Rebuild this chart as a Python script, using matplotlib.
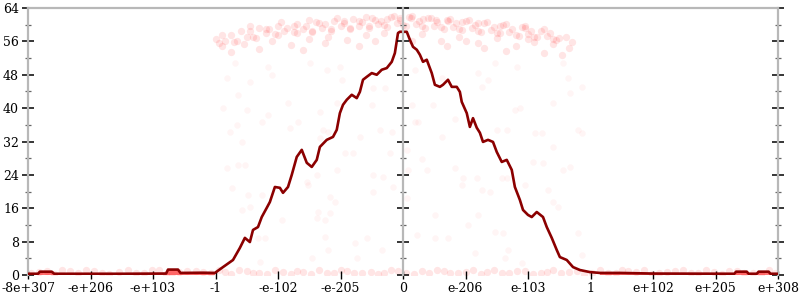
import matplotlib
matplotlib.use("Agg")
import matplotlib.pyplot as plt
import numpy as np

# x positions are in "tick units": each tick label below sits one unit apart
tick_pos = [-6, -5, -4, -3, -2, -1, 0, 1, 2, 3, 4, 5, 6]
tick_labels = ["-8e+307", "-e+206", "-e+103", "-1", "-e-102", "-e-205", "0",
               "e-206", "e-103", "1", "e+102", "e+205", "e+308"]
y_ticks = [0, 8, 16, 24, 32, 40, 48, 56, 64]
y_minor = [4, 12, 20, 28, 36, 44, 52, 60]

# dark red curve
line_x = [-6.0, -5.84, -5.81, -5.62, -5.58, -4.5, -3.79, -3.76, -3.6, -3.56, -3.2, -3.01,
          -2.88, -2.72, -2.61, -2.53, -2.45, -2.40, -2.32, -2.26, -2.18, -2.13, -2.05, -1.97,
          -1.92, -1.84, -1.78, -1.70, -1.62, -1.54, -1.46, -1.38, -1.33, -1.22, -1.12, -1.06,
          -1.01, -0.96, -0.90, -0.82, -0.74, -0.69, -0.64, -0.58, -0.50, -0.42, -0.34, -0.26,
          -0.18, -0.13, -0.08, -0.05, 0.03, 0.06, 0.11, 0.16, 0.22, 0.27, 0.32, 0.38, 0.46,
          0.51, 0.59, 0.64, 0.72, 0.78, 0.86, 0.91, 0.94, 1.02, 1.07, 1.12, 1.18, 1.23, 1.28,
          1.36, 1.44, 1.50, 1.58, 1.66, 1.74, 1.79, 1.87, 1.92, 2.00, 2.06, 2.14, 2.24, 2.30,
          2.38, 2.46, 2.51, 2.62, 2.72, 2.83, 2.99, 3.15, 3.47, 4.0, 5.3, 5.33, 5.5, 5.53,
          5.66, 5.69, 5.85, 5.88, 6.0]
line_y = [0.3, 0.3, 0.8, 0.8, 0.3, 0.3, 0.35, 1.3, 1.3, 0.5, 0.55, 0.5,
          1.9, 3.6, 6.5, 8.9, 7.9, 10.8, 11.5, 13.9, 16.1, 17.5, 21.1, 20.9,
          19.7, 21.1, 24.0, 28.3, 30.0, 26.9, 25.9, 27.6, 30.7, 32.4, 33.1, 34.8,
          38.8, 40.8, 42.0, 43.2, 42.4, 43.9, 46.8, 47.5, 48.4, 48.0, 49.2, 49.6,
          51.1, 53.2, 58.0, 58.3, 58.3, 58.3, 56.4, 54.7, 54.0, 52.8, 51.1, 51.6, 48.4,
          45.6, 45.1, 45.6, 46.8, 45.1, 45.1, 43.9, 41.5, 38.8, 35.5, 37.6, 35.3, 34.1, 31.9,
          32.4, 31.9, 29.5, 27.1, 27.6, 25.2, 21.1, 18.0, 15.6, 14.4, 13.9, 15.1, 13.9, 11.5,
          8.9, 6.0, 4.3, 3.6, 1.9, 1.2, 0.7, 0.5, 0.5, 0.35, 0.3, 0.8, 0.8, 0.3,
          0.3, 0.8, 0.8, 0.3, 0.3]

# dense band of points near the top
top_x = [-2.9, -2.6, -2.3, -2.0, -1.7, -1.4, -1.1, -0.8, -0.5, -0.2, 0.1, 0.4, 0.7, 1.0, 1.3, 1.6, 1.9, 2.2,
         -3.0, -2.75, -2.45, -2.15, -1.85, -1.55, -1.25, -0.95, -0.65, -0.35, -0.05, 0.25, 0.55, 0.85,
         1.15, 1.45, 1.75, 2.05, 2.35, 2.6,
         -2.85, -2.5, -2.2, -1.9, -1.6, -1.3, -1.0, -0.7, -0.4, -0.1, 0.2, 0.5, 0.8, 1.1, 1.4, 1.7,
         2.0, 2.3, 2.5,
         -2.7, -2.35, -2.0, -1.7, -1.45, -1.15, -0.85, -0.55, -0.25, 0.05, 0.35, 0.65, 0.95, 1.25,
         1.55, 1.85, 2.15, 2.45,
         -2.9, -2.55, -2.1, -1.8, -1.5, -1.2, -0.9, -0.6, -0.3, 0.3, 0.6, 0.9, 1.2, 1.5, 1.8, 2.1,
         2.4, 2.65,
         -2.45, -1.95, -1.5, -1.05, -0.6, -0.15, 0.15, 0.45, 0.75, 1.05, 1.35, 1.65, 1.95, 2.25,
         -2.2, -1.75, -1.35, -0.95, -0.7, -0.45, -0.25, -0.05, 0.12, 0.32, 0.52, 0.72, 0.95, 1.2,
         1.55, 1.95,
         -2.95, -2.65, -2.4, -2.05, -1.75, -1.45, -1.15, -0.85, -0.55, -0.3, 0.0, 0.3, 0.6, 0.9,
         1.2, 1.5, 1.8, 2.1, 2.4, 2.7,
         -2.75, -2.3, -1.6, -1.25, -0.7, -0.45, 0.15, 0.7, 1.0, 1.3, 1.65, 2.0, 2.25, 2.55]
top_y = [57.5, 58.5, 59.3, 59.8, 60.2, 60.6, 61.0, 61.3, 61.6, 61.8, 61.8, 61.5, 61.2, 60.9, 60.5, 60.0, 59.5, 58.6,
         56.5, 57.6, 58.4, 59.0, 59.3, 59.8, 60.2, 60.5, 60.7, 61.0, 61.2, 60.9, 60.6, 60.3,
         60.0, 59.4, 59.0, 58.5, 57.9, 57.0,
         56.0, 57.0, 58.0, 58.5, 58.9, 59.3, 59.6, 59.8, 60.2, 60.4, 60.1, 59.8, 59.5, 59.2, 58.7, 58.3,
         57.8, 57.3, 56.8,
         55.8, 56.8, 57.5, 58.0, 58.3, 58.6, 59.0, 59.2, 59.5, 59.7, 59.3, 59.0, 58.8, 58.3,
         57.9, 57.4, 57.0, 56.4,
         54.8, 55.4, 56.0, 55.2, 56.5, 57.0, 56.3, 57.5, 58.0, 57.8, 56.2, 57.0, 55.5, 56.8, 55.0, 55.8,
         55.3, 54.5,
         59.8, 60.6, 61.1, 61.5, 61.9, 62.0, 62.0, 61.7, 61.4, 61.1, 60.7, 60.2, 59.6, 58.9,
         59.0, 59.6, 60.3, 60.8, 61.0, 61.2, 61.4, 61.5, 61.6, 61.4, 61.2, 60.9, 60.6, 60.3,
         59.8, 59.1,
         55.5, 56.2, 57.0, 57.8, 58.2, 58.6, 59.0, 59.3, 59.6, 59.9, 60.0, 59.7, 59.4, 59.0,
         58.6, 58.1, 57.6, 57.1, 56.5, 55.8,
         53.5, 54.2, 54.0, 55.5, 55.0, 56.2, 56.0, 54.8, 56.0, 54.3, 53.8, 56.5, 53.2, 52.8]

# sparse points in the middle
mid_x = [-2.69, -2.82, -2.45, -2.64, -2.88, -2.50, -2.16, -1.84, -2.26, -2.66, -2.77, -1.68,
         -1.81, -2.58, -2.82, -2.64, -2.53, -2.74, -2.48, -2.26, -2.58, -2.45, -1.94, -2.32,
         -2.21, -2.29, -1.49, -2.16, -2.10, -1.22, -1.01, -0.98, -0.48, -0.29, -1.06, -0.50,
         -1.33, -1.28, -1.20, -1.33, -0.69, -0.37, -0.18, -0.93, -0.80, -0.21, -1.06, -1.38,
         -1.54, -1.52, -0.48, -0.32, -0.16, -1.17, -1.09, -0.48, -1.36, -1.17, -1.38, -1.25,
         -0.77, -0.58, -1.25, -1.20, -0.34, -1.46, -0.74,
         0.19, 0.62, 0.14, 0.48, 0.19, 0.24, 0.83, 0.62, 0.06, 0.30, 0.08, 0.38, 0.83, 0.96,
         1.18, 0.94, 1.26, 1.39, 0.06, 0.51, 1.20, 1.04, 0.22, 0.51, 0.72, 1.15, 1.47, 1.60,
         1.68, 1.63, 1.90, 1.50, 1.66, 1.79, 1.87, 1.47, 1.20, 1.26, 1.36, 1.82, 2.11, 2.22,
         2.40, 2.08, 2.24, 1.58, 1.66, 1.95, 2.32, 2.40, 2.48, 2.80, 2.86, 2.56, 2.64, 2.67,
         2.86, 2.40, 2.80, 2.86, 2.56, 2.67]
mid_y = [50.8, 47.2, 46.3, 43.2, 40.0, 39.6, 38.4, 41.2, 36.7, 36.0, 34.3, 36.7,
         35.3, 31.9, 25.7, 26.4, 26.4, 20.9, 19.2, 19.2, 15.6, 16.3, 13.2, 8.9,
         8.9, 3.1, 50.8, 49.9, 48.0, 49.2, 49.9, 46.8, 44.8, 44.8, 41.2, 40.8,
         39.1, 34.8, 34.3, 32.9, 33.1, 34.8, 34.3, 29.3, 29.3, 29.3, 25.2, 24.0,
         22.3, 21.6, 24.0, 23.5, 21.1, 18.7, 17.5, 19.9, 15.1, 14.9, 13.7, 13.2,
         7.7, 8.9, 9.1, 6.0, 6.0, 4.1, 4.1,
         49.2, 47.2, 40.8, 40.8, 36.7, 36.7, 37.4, 33.1, 30.0, 27.8, 25.2, 25.2, 25.7, 23.3,
         23.3, 21.6, 20.4, 19.9, 18.5, 14.4, 14.4, 12.0, 9.6, 8.9, 8.9, 5.3, 10.3, 10.1,
         6.0, 4.1, 2.9, 34.8, 34.8, 39.6, 40.0, 50.8, 48.4, 45.1, 46.8, 49.9, 34.1, 34.1,
         30.7, 27.1, 26.9, 23.3, 23.3, 21.6, 20.4, 17.5, 16.3, 10.1, 4.8, 50.8, 47.2, 43.6,
         45.1, 41.2, 34.8, 34.1, 25.2, 25.9]

# band of points along the bottom
bot_x = [-5.95, -5.7, -5.45, -5.2, -4.95, -4.7, -4.4, -4.15, -3.9, -3.7, -3.45, -3.2, -2.95,
         -2.75, -2.5, -2.3, -2.05, -1.8, -1.6, -1.35, -1.1, -0.9, -0.65, -0.4, -0.2, 0.05, 0.3,
         0.55, 0.75, 1.0, 1.25, 1.45, 1.7, 1.95, 2.2, 2.4, 2.65, 2.9, 3.15, 3.4, 3.6, 3.85, 4.1,
         4.35, 4.6, 4.85, 5.1, 5.35, 5.6, 5.85,
         -5.82, -5.58, -5.33, -5.08, -4.82, -4.55, -4.28, -4.02, -3.8, -3.58, -3.32, -3.08, -2.85,
         -2.62, -2.4, -2.18, -1.92, -1.7, -1.48, -1.22, -1.0, -0.78, -0.52, -0.3, -0.08, 0.18,
         0.42, 0.65, 0.88, 1.12, 1.35, 1.58, 1.82, 2.08, 2.3, 2.52, 2.78, 3.02, 3.28, 3.5, 3.72,
         3.98, 4.22, 4.48, 4.72, 4.98, 5.22, 5.45, 5.72, 5.95]
bot_y = [0.4, 0.9, 1.2, 0.5, 1.0, 0.3, 1.1, 0.6, 1.3, 0.4, 1.0, 0.7, 1.2,
         0.3, 0.9, 0.5, 1.1, 0.2, 0.8, 1.2, 0.4, 1.0, 0.6, 0.3, 1.1, 0.5, 0.9,
         1.2, 0.4, 0.8, 0.3, 1.1, 0.6, 1.0, 0.4, 1.2, 0.7, 0.3, 1.1, 0.5, 0.9, 1.3, 0.4,
         1.0, 0.6, 1.2, 0.3, 0.9, 0.5, 1.1,
         0.7, 0.3, 0.9, 1.3, 0.4, 0.8, 0.5, 1.2, 0.3, 0.7, 1.0, 0.4, 0.8,
         1.1, 0.5, 0.2, 0.7, 1.0, 0.3, 0.6, 1.2, 0.4, 0.8, 0.5, 0.9, 0.3,
         0.6, 1.0, 0.5, 1.2, 0.7, 0.4, 0.9, 0.3, 0.8, 0.5, 1.0, 0.6, 0.4, 1.2, 0.7,
         0.3, 0.8, 1.1, 0.4, 0.7, 1.0, 0.5, 0.3, 0.6]

SPINE = "#b8b8b8"

fig = plt.figure(figsize=(8, 3), dpi=100)
ax = fig.add_axes([0.035, 0.0833, 0.9375, 0.89])

ax.scatter(top_x, top_y, s=28, color="red", alpha=0.1, linewidths=0, zorder=1)
ax.scatter(mid_x, mid_y, s=22, color="red", alpha=0.04, linewidths=0, zorder=1)
ax.scatter(bot_x, bot_y, s=28, color="red", alpha=0.1, linewidths=0, zorder=1)

lx = np.array(line_x)
ly = np.array(line_y)
ax.fill_between(lx, 0, ly, where=np.abs(lx) >= 3.0, color="red", alpha=0.55, lw=0, zorder=2)
ax.plot(lx, ly, color="#8b0000", lw=1.9, zorder=3)

ax.set_xlim(-6, 6)
ax.set_ylim(0, 64)
ax.set_xticks(tick_pos)
ax.set_xticklabels(tick_labels, family="DejaVu Serif", fontsize=9)
ax.set_yticks(y_ticks)
ax.set_yticklabels([str(v) for v in y_ticks], family="DejaVu Serif", fontsize=9)
ax.set_yticks(y_minor, minor=True)

for side in ["left", "right", "top"]:
    ax.spines[side].set_color(SPINE)
    ax.spines[side].set_linewidth(1.6)
ax.spines["bottom"].set_visible(False)

ax.tick_params(axis="y", which="major", direction="inout", length=9, width=1.1,
               color="black", left=True, right=True, pad=2)
ax.tick_params(axis="y", which="minor", direction="inout", length=5, width=0.9,
               color="#666666", left=True, right=True)
ax.tick_params(axis="x", which="major", direction="inout", length=6, width=1,
               color="black", pad=2)

# center axis at 0 with its own ticks
cx = fig.add_axes(ax.get_position(), facecolor="none")
cx.set_xlim(-6, 6)
cx.set_ylim(0, 64)
for side in ["right", "top", "bottom"]:
    cx.spines[side].set_visible(False)
cx.spines["left"].set_position(("data", 0))
cx.spines["left"].set_color(SPINE)
cx.spines["left"].set_linewidth(1.6)
cx.set_xticks([])
cx.set_yticks(y_ticks)
cx.set_yticks(y_minor, minor=True)
cx.set_yticklabels([])
cx.tick_params(axis="y", which="major", direction="inout", length=9, width=1.1, color="black")
cx.tick_params(axis="y", which="minor", direction="inout", length=5, width=0.9, color="#666666")

fig.savefig("out.png", dpi=100)
